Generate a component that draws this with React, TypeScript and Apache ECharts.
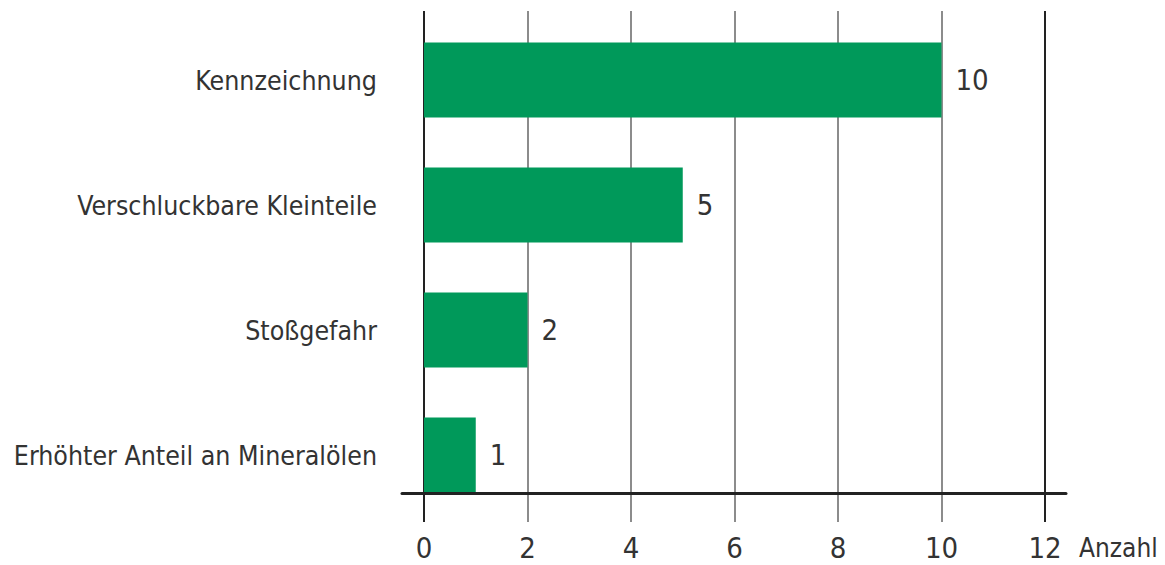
import React, { useEffect, useRef } from "react";
import * as echarts from "echarts";

const categories = [
  "Kennzeichnung",
  "Verschluckbare Kleinteile",
  "Stoßgefahr",
  "Erhöhter Anteil an Mineralölen",
];
const values = [10, 5, 2, 1];
const xMin = 0;
const xMax = 12;
const xInterval = 2;
const xName = "Anzahl";

const FONT = "'DejaVu Sans Condensed', 'Liberation Sans Narrow', 'Liberation Sans', sans-serif";
const TEXT = "#333333";
const GREEN = "#00995A";

export default function App() {
  const ref = useRef<HTMLDivElement>(null);
  useEffect(() => {
    if (!ref.current) return;
    const chart = echarts.init(ref.current, undefined, { renderer: "svg" });
    const gridColors = ["#222222", "#8c8c8c", "#8c8c8c", "#8c8c8c", "#8c8c8c", "#8c8c8c", "#222222"];
    chart.setOption({
      animation: false,
      backgroundColor: "#ffffff",
      grid: [
        { left: 424, right: 120, top: 11, bottom: 43, outerBoundsMode: "none", containLabel: false },
        { left: 424, right: 120, top: 17.5, bottom: 47.5, outerBoundsMode: "none", containLabel: false },
        { left: 402, right: 99, top: 11, bottom: 72, outerBoundsMode: "none", containLabel: false },
      ],
      xAxis: [
        {
          gridIndex: 0,
          type: "value",
          min: xMin,
          max: xMax,
          interval: xInterval,
          axisLine: { show: false },
          axisTick: { show: false },
          splitLine: { show: true, lineStyle: { color: gridColors, width: 2 } },
          axisLabel: { fontFamily: FONT, fontSize: 29, color: TEXT, margin: 11 },
          name: xName,
          nameLocation: "end",
          nameGap: 34,
          nameTextStyle: {
            fontFamily: FONT,
            fontSize: 26,
            color: TEXT,
            verticalAlign: "top",
            padding: [13, 0, 0, 0],
          },
        },
        {
          gridIndex: 1,
          type: "value",
          min: xMin,
          max: xMax,
          show: false,
        },
        {
          gridIndex: 2,
          type: "value",
          min: 0,
          max: 1,
          z: 5,
          axisLine: { show: true, lineStyle: { color: "#222222", width: 3 } },
          axisTick: { show: false },
          axisLabel: { show: false },
          splitLine: { show: false },
        },
      ],
      yAxis: [
        { gridIndex: 0, type: "value", show: false },
        {
          gridIndex: 1,
          type: "category",
          inverse: true,
          data: categories,
          axisLine: { show: false },
          axisTick: { show: false },
          axisLabel: { fontFamily: FONT, fontSize: 26.5, color: TEXT, margin: 47 },
        },
        { gridIndex: 2, type: "value", show: false },
      ],
      series: [
        {
          type: "bar",
          xAxisIndex: 1,
          yAxisIndex: 1,
          data: values,
          barWidth: 75,
          itemStyle: { color: GREEN },
          label: {
            show: true,
            position: "right",
            distance: 14,
            fontFamily: FONT,
            fontSize: 29,
            color: TEXT,
          },
        },
      ],
    });
    return () => chart.dispose();
  }, []);
  return (
    <div
      ref={ref}
      style={{ position: "fixed", left: 0, top: 0, width: 1165, height: 565 }}
    />
  );
}
